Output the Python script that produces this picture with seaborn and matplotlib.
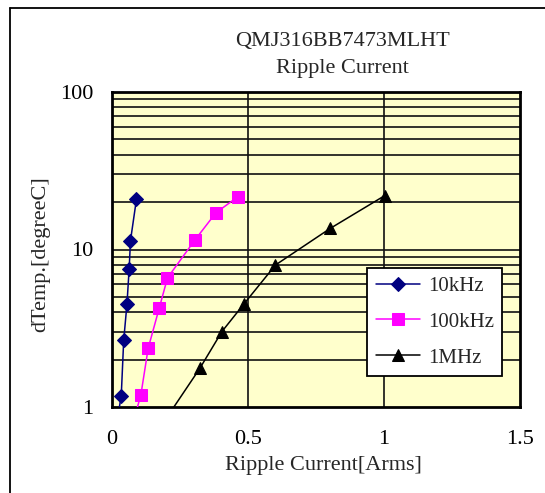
import numpy as np
import pandas as pd
import matplotlib.pyplot as plt
import matplotlib.ticker as mticker
import seaborn as sns

# ripple current [Arms] vs temperature rise [degC]
cur_10k = [0.022, 0.034, 0.043, 0.055, 0.063, 0.068, 0.090]
dt_10k = [0.88, 1.18, 2.65, 4.5, 7.5, 11.4, 20.9]
cur_100k = [0.086, 0.106, 0.133, 0.174, 0.204, 0.305, 0.382, 0.464]
dt_100k = [0.9, 1.19, 2.36, 4.27, 6.6, 11.5, 17.1, 21.7]
cur_1m = [0.196, 0.323, 0.404, 0.485, 0.601, 0.802, 1.003]
dt_1m = [0.83, 1.76, 3.01, 4.51, 7.97, 13.6, 22.0]

series = ['10kHz', '100kHz', '1MHz']
x_ticks = [0, 0.5, 1, 1.5]
x_labels = ['0', '0.5', '1', '1.5']
y_ticks = [1, 10, 100]
y_labels = ['1', '10', '100']

sns.set_style("white")
plt.rcParams['font.family'] = ['Liberation Serif', 'DejaVu Serif']

W, H = 545, 493
fig = plt.figure(figsize=(W / 100, H / 100), dpi=100)
ax = fig.add_axes([112/W, 1-407/H, (520-112)/W, (407-92)/H])
ax.set_facecolor('#FFFFCC')

ax.set_yscale('log')
ax.set_xlim(0, 1.5)
ax.set_ylim(1, 100)

# grid lines behind the data
minor = [m * d for d in (1, 10) for m in range(2, 10)]
for v in minor + [10]:
    ax.axhline(v, color='#111111', lw=1.2, zorder=1)
for v in (0.5, 1.0):
    ax.axvline(v, color='#111111', lw=1.2, zorder=1)

styles = {
    '10kHz': dict(color='#000080', marker='D', markersize=7.5),
    '100kHz': dict(color='#FF00FF', marker='s', markersize=8.5),
    '1MHz': dict(color='black', marker='^', markersize=8),
}
data = {'10kHz': (cur_10k, dt_10k), '100kHz': (cur_100k, dt_100k), '1MHz': (cur_1m, dt_1m)}
for name in series:
    xs, ys = data[name]
    df = pd.DataFrame({'x': xs, 'y': ys})
    st = styles[name]
    sns.lineplot(data=df, x='x', y='y', sort=False, ax=ax, color=st['color'],
                 marker=st['marker'], markersize=st['markersize'],
                 markeredgecolor=st['color'], lw=1.1, label=name, zorder=3)

ax.set_xticks(x_ticks)
ax.set_xticklabels(x_labels)
ax.yaxis.set_major_locator(mticker.FixedLocator(y_ticks))
ax.yaxis.set_minor_locator(mticker.NullLocator())
ax.set_yticklabels(y_labels)
ax.tick_params(axis='both', length=0, labelsize=16, colors='black')
ax.tick_params(axis='x', pad=16.5)
ax.tick_params(axis='y', pad=13.3)
ax.set_xlabel('')
ax.set_ylabel('')

for s in ax.spines.values():
    s.set_color('black')
    s.set_linewidth(2)

fig.text(342/W, 1-46/H, 'QMJ316BB7473MLHT', ha='center', va='baseline', fontsize=16)
fig.text(342/W, 1-72.5/H, 'Ripple Current', ha='center', va='baseline', fontsize=16)
fig.text(323/W, 1-470/H, 'Ripple Current[Arms]', ha='center', va='baseline', fontsize=16)
fig.text(41/W, 1-254/H, 'dTemp.[degreeC]', ha='center', va='center', fontsize=16, rotation=90)

leg = ax.legend(loc='upper left', bbox_to_anchor=(367.3/W, 1-268/H),
                bbox_transform=fig.transFigure,
                frameon=True, fancybox=False, fontsize=15, borderpad=0.4,
                labelspacing=0.78, handlelength=2.15, handletextpad=0.35, borderaxespad=0)
frame = leg.get_frame()
frame.set_edgecolor('black')
frame.set_linewidth(1.3)
frame.set_facecolor('white')
frame.set_alpha(1)

# outer chart frame (only top and left edges fall inside the picture)
fig.add_artist(plt.Line2D([10/W, 1], [1-7.5/H, 1-7.5/H], color='black', lw=1.3))
fig.add_artist(plt.Line2D([10/W, 10/W], [0, 1-7.5/H], color='black', lw=1.3))

fig.savefig('out.png', dpi=100)
